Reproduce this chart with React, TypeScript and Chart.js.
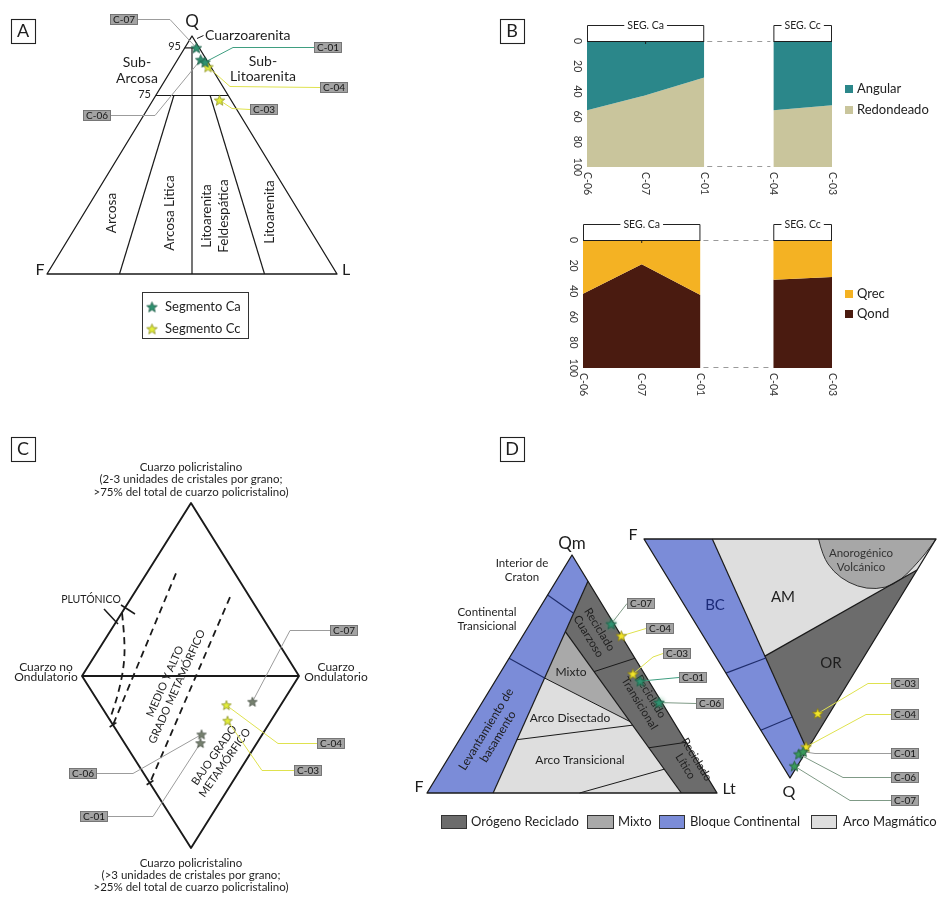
import React, { useEffect, useRef } from "react";
import { Chart, registerables } from "chart.js";

Chart.register(...registerables);

const FONT = 'Lato, "Open Sans", "DejaVu Sans", sans-serif';
const PAGE_W = 943;
const PAGE_H = 902;

/* ------------------------------ data ------------------------------ */
const SAMPLES = ["C-07", "C-06", "C-01", "C-04", "C-03"];
const SEGMENT = ["Ca", "Ca", "Ca", "Cc", "Cc"];
// QFL composition (%) : Q, F, L  (panel A and right triangle of D)
const QFL_Q = [95, 90, 89, 87, 73];
const QFL_F = [1, 2, 1, 1, 4];
const QFL_L = [4, 8, 10, 12, 23];
// QmFLt composition (%)
const QMFLT_QM = [71, 38, 47, 66, 50];
const QMFLT_F = [1, 1, 3, 0, 4];
const QMFLT_LT = [28, 61, 50, 34, 46];
// Basu diagram (%): non-undulatory, undulatory, polycrystalline (>3 units)
const BASU_NU = [14, 28, 26, 25, 20];
const BASU_U = [71, 38, 35, 58, 54];
const BASU_P = [15, 34, 39, 17, 26];

// Panel B
const B_CA = ["C-06", "C-07", "C-01"];
const B_CC = ["C-04", "C-03"];
const ANGULAR_CA = [55, 43, 29];
const ANGULAR_CC = [55, 51];
const QREC_CA = [42, 19, 43];
const QREC_CC = [31, 29];
const PCT_TICKS = [0, 20, 40, 60, 80, 100];

/* ----------------------------- layout ----------------------------- */
type Pt = [number, number];
const bary = (a: Pt, b: Pt, c: Pt, wa: number, wb: number, wc: number): Pt => {
  const s = wa + wb + wc;
  return [(a[0] * wa + b[0] * wb + c[0] * wc) / s, (a[1] * wa + b[1] * wb + c[1] * wc) / s];
};
const A_Q: Pt = [192, 36], A_F: Pt = [47, 274], A_L: Pt = [337, 274];
const C_TOP: Pt = [191, 503], C_LEFT: Pt = [82, 676], C_RIGHT: Pt = [299, 676], C_BOT: Pt = [191, 848];
const DL_QM: Pt = [572, 555], DL_F: Pt = [427, 793], DL_LT: Pt = [717, 793];
const DR_Q: Pt = [790, 778], DR_F: Pt = [644, 539], DR_L: Pt = [936, 539];
const LETTER_X_RIGHT = 500;

const ta = (q: number, f: number, l: number) => bary(A_Q, A_F, A_L, q, f, l);
const tl = (qm: number, f: number, lt: number) => bary(DL_QM, DL_F, DL_LT, qm, f, lt);
const tr = (q: number, f: number, l: number) => bary(DR_Q, DR_F, DR_L, q, f, l);
const dia = (h: number, v: number): Pt => [190.5 + h * 108.5, 676 - v * 172.5];

const POS: Record<string, (i: number) => Pt> = {
  A: (i) => bary(A_Q, A_F, A_L, QFL_Q[i], QFL_F[i], QFL_L[i]),
  C: (i) => bary(C_LEFT, C_RIGHT, C_BOT, BASU_NU[i], BASU_U[i], BASU_P[i]),
  DL: (i) => bary(DL_QM, DL_F, DL_LT, QMFLT_QM[i], QMFLT_F[i], QMFLT_LT[i]),
  DR: (i) => bary(DR_Q, DR_F, DR_L, QFL_Q[i], QFL_F[i], QFL_L[i]),
};

const BLUE = "#7b8cd8", DARK = "#6c6c6c", MIX = "#a9a9a9", LIGHT = "#dedede", LOBE = "#a7a7a7";
const NAVY = "#1f2d6b", INK = "#1a1a1a";
const GRAY_L = "#9c9c9c", YEL_L = "#dfe24e", GREEN_L = "#3f9e80", GG_L = "#7f9a86";

const TAG_W = 28, TAG_H = 11;
type Leader = { d: string; s: string; box: Pt; side: "l" | "r"; elbow?: Pt; color: string };
const LEADERS: Leader[] = [
  { d: "A", s: "C-07", box: [110, 14], side: "r", elbow: [170, 19.5], color: GRAY_L },
  { d: "A", s: "C-06", box: [83, 110], side: "r", elbow: [155, 115.5], color: GRAY_L },
  { d: "A", s: "C-01", box: [314, 42], side: "l", elbow: [233, 47.5], color: GREEN_L },
  { d: "A", s: "C-04", box: [320, 82], side: "l", elbow: [230, 86.5], color: YEL_L },
  { d: "A", s: "C-03", box: [250, 104], side: "l", elbow: [232, 108.5], color: YEL_L },
  { d: "C", s: "C-07", box: [330, 625], side: "l", elbow: [290, 630.5], color: GRAY_L },
  { d: "C", s: "C-06", box: [69, 768], side: "r", elbow: [133, 773.5], color: GRAY_L },
  { d: "C", s: "C-01", box: [80, 811], side: "r", elbow: [153, 816.5], color: GRAY_L },
  { d: "C", s: "C-04", box: [317, 738], side: "l", elbow: [278, 743.5], color: YEL_L },
  { d: "C", s: "C-03", box: [294, 765], side: "l", elbow: [262, 770.5], color: YEL_L },
  { d: "DL", s: "C-07", box: [627, 598], side: "l", color: GG_L },
  { d: "DL", s: "C-04", box: [646, 623], side: "l", color: YEL_L },
  { d: "DL", s: "C-03", box: [663, 648], side: "l", elbow: [653, 657], color: YEL_L },
  { d: "DL", s: "C-01", box: [679, 672], side: "l", color: GREEN_L },
  { d: "DL", s: "C-06", box: [696, 698], side: "l", color: GG_L },
  { d: "DR", s: "C-03", box: [891, 678], side: "l", elbow: [868, 683.5], color: YEL_L },
  { d: "DR", s: "C-04", box: [891, 709], side: "l", elbow: [866, 714.5], color: YEL_L },
  { d: "DR", s: "C-01", box: [891, 748], side: "l", elbow: [815, 753.5], color: GRAY_L },
  { d: "DR", s: "C-06", box: [891, 772], side: "l", elbow: [843, 777.5], color: GG_L },
  { d: "DR", s: "C-07", box: [891, 795], side: "l", elbow: [850, 800.5], color: GG_L },
];

/* ----------------------------- drawing ops ----------------------------- */
type Op =
  | { k: "line"; pts: Pt[]; color?: string; lw?: number; close?: boolean; fill?: string; dash?: number[]; smooth?: boolean }
  | { k: "text"; p: Pt; s: string[]; size: number; align?: CanvasTextAlign; rot?: number; color?: string; lh?: number }
  | { k: "rect"; p: Pt; w: number; h: number; fill?: string; color?: string; lw?: number }
  | { k: "tag"; p: Pt; s: string }
  | { k: "img"; p: Pt; img: HTMLCanvasElement };

const L = (pts: Pt[], o: any = {}): Op => ({ k: "line", pts, color: INK, lw: 1.2, ...o });
const T = (p: Pt, s: string | string[], size: number, o: any = {}): Op => ({ k: "text", p, s: Array.isArray(s) ? s : [s], size, ...o });
const R = (p: Pt, w: number, h: number, o: any = {}): Op => ({ k: "rect", p, w, h, color: "#222", lw: 1.1, ...o });

function tickAcross(e: Pt): Op {
  const n: Pt = [0.845, -0.535];
  return L([[e[0] - 4 * n[0], e[1] - 4 * n[1]], [e[0] + 4 * n[0], e[1] + 4 * n[1]]], { lw: 1.6 });
}

function buildBackground(): Op[] {
  const ops: Op[] = [];
  /* ---------- Panel A ---------- */
  ops.push(R([11, 19], 24, 24), T([23, 31.5], "A", 18));
  ops.push(L([A_Q, A_F, A_L], { close: true, lw: 1.3 }));
  ops.push(L([ta(95, 5, 0), ta(95, 0, 5)]));
  ops.push(L([ta(75, 25, 0), ta(75, 0, 25)]));
  ops.push(L([ta(75, 18.75, 6.25), ta(0, 75, 25)]));
  ops.push(L([ta(95, 2.5, 2.5), ta(0, 50, 50)]));
  ops.push(L([ta(75, 6.25, 18.75), ta(0, 25, 75)]));
  ops.push(L([[197, 38.5], [203.5, 35.5]], { lw: 1 }));
  ops.push(T([192, 22], "Q", 17), T([40, 270], "F", 16), T([346, 270], "L", 16));
  ops.push(T([181, 46], "95", 11, { align: "right" }), T([151, 94], "75", 11, { align: "right" }));
  ops.push(T([205, 35], "Cuarzoarenita", 14, { align: "left" }));
  ops.push(T([137, 70], ["Sub-", "Arcosa"], 14, { lh: 16 }));
  ops.push(T([263, 69], ["Sub-", "Litoarenita"], 14, { lh: 15 }));
  ops.push(T([112, 213], "Arcosa", 13.5, { rot: -90 }));
  ops.push(T([170, 213], "Arcosa Litica", 13.5, { rot: -90 }));
  ops.push(T([215.5, 216], ["Litoarenita", "Feldespática"], 13.5, { rot: -90, lh: 17 }));
  ops.push(T([270, 212], "Litoarenita", 13.5, { rot: -90 }));

  /* ---------- Panel C ---------- */
  ops.push(R([11, 437], 24, 24), T([23, 449.5], "C", 18));
  ops.push(T([191, 479.5], ["Cuarzo policristalino", "(2-3 unidades de cristales por grano;", ">75% del total de cuarzo policristalino)"], 11.5, { lh: 12.5 }));
  ops.push(T([191, 875], ["Cuarzo policristalino", "(>3 unidades de cristales por grano;", ">25% del total de cuarzo policristalino)"], 11.5, { lh: 12 }));
  ops.push(T([46, 672], ["Cuarzo no", "Ondulatorio"], 12, { lh: 10.5 }));
  ops.push(T([336, 672], ["Cuarzo", "Ondulatorio"], 12, { lh: 10.5 }));
  ops.push(L([C_TOP, C_RIGHT, C_BOT, C_LEFT], { close: true, lw: 1.9 }));
  ops.push(L([C_LEFT, C_RIGHT], { lw: 1.9 }));
  const dash = { lw: 1.8, dash: [7, 5] };
  ops.push(L([dia(-0.631, 0.364), dia(-0.604, 0.208), dia(-0.613, 0.052), dia(-0.668, -0.11), dia(-0.745, -0.255)], { ...dash, smooth: true }));
  const l2a = dia(-0.134, 0.595), l2b = dia(-0.714, -0.283);
  const l3a = dia(0.364, 0.457), l3b = dia(-0.373, -0.618);
  ops.push(L([l2a, l2b], dash), L([l3a, l3b], dash));
  ops.push(tickAcross(l2b), tickAcross(l3b));
  ops.push(L([[104, 609], [118, 624]], { lw: 1.5 }), L([[121, 605], [135, 614]], { lw: 1.5 }));
  ops.push(T([91, 600], "PLUTÓNICO", 10.5));
  ops.push(T([171, 684], ["MEDIO Y ALTO", "GRADO METAMÓRFICO"], 11, { rot: -66, lh: 13 }));
  ops.push(T([219.5, 759], ["BAJO GRADO", "METAMÓRFICO"], 11, { rot: -55, lh: 13 }));

  /* ---------- Panel D ---------- */
  ops.push(R([LETTER_X_RIGHT, 437], 24, 24), T([LETTER_X_RIGHT + 12, 449.5], "D", 18));
  // left triangle (Qm F Lt)
  const P1 = tl(0, 0.772, 0.228), P2 = tl(0.89, 0, 0.11), P3 = tl(0, 0.123, 0.877), P4 = tl(0.678, 0.184, 0.138);
  const M1 = tl(0.3, 0.15, 0.55), M2 = tl(0.483, 0.353, 0.164);
  ops.push(L([M2, M1, P3, P1], { close: true, fill: LIGHT, color: undefined }));
  ops.push(L([P4, M1, M2], { close: true, fill: MIX, color: undefined }));
  ops.push(L([P2, DL_LT, P3, P4], { close: true, fill: DARK, color: undefined }));
  ops.push(L([DL_QM, DL_F, P1, P2], { close: true, fill: BLUE, color: undefined }));
  ops.push(L([P2, P1]), L([P4, P3]), L([M2, M1], { lw: 1 }));
  ops.push(L([tl(0.224, 0.578, 0.198), tl(0.285, 0.149, 0.566)], { lw: 1 }));
  ops.push(L([tl(0, 0.474, 0.526), tl(0.1, 0.132, 0.768)], { lw: 1 }));
  ops.push(L([tl(0.51, 0.169, 0.321), tl(0.566, 0, 0.434)], { lw: 1 }));
  ops.push(L([tl(0.19, 0.14, 0.67), tl(0.213, 0, 0.787)], { lw: 1 }));
  ops.push(L([tl(0.832, 0.168, 0), tl(0.755, 0.117, 0.128)], { color: NAVY, lw: 1.2 }));
  ops.push(L([tl(0.566, 0.434, 0), M2], { color: NAVY, lw: 1.2 }));
  ops.push(L([DL_QM, DL_F, DL_LT], { close: true, lw: 1.3 }));
  ops.push(T([572, 544], "Qm", 17), T([419, 787], "F", 16), T([729, 789], "Lt", 16));
  ops.push(T([522, 570], ["Interior de", "Craton"], 11.5, { lh: 14 }));
  ops.push(T([487, 619], ["Continental", "Transicional"], 11.5, { lh: 14 }));
  ops.push(T([492, 733], ["Levantamiento de", "basamento"], 12, { rot: -58.6, lh: 14 }));
  ops.push(T([594, 633], ["Reciclado", "Cuarzoso"], 11.5, { rot: 58.6, lh: 13 }));
  ops.push(T([571, 672], "Mixto", 12));
  ops.push(T([645, 700], ["Reciclado", "Transicional"], 11.5, { rot: 58.6, lh: 13 }));
  ops.push(T([570, 718], "Arco Disectado", 12));
  ops.push(T([580, 760], "Arco Transicional", 12));
  ops.push(T([691, 763], ["Reciclado", "Lítico"], 11.5, { rot: 58.6, lh: 13 }));
  // right triangle (Q F L)
  const B1 = tr(0, 0.766, 0.234), B2 = tr(0.883, 0, 0.117), J = tr(0.49, 0.341, 0.169), K = tr(0.13, 0, 0.87);
  ops.push(L([DR_F, DR_L, DR_Q], { close: true, fill: LIGHT, color: undefined }));
  ops.push(L([DR_F, B1, B2, DR_Q], { close: true, fill: BLUE, color: undefined }));
  ops.push(L([J, K, B2], { close: true, fill: DARK, color: undefined }));
  const LOBE_QL: Pt[] = [[0, 0.598], [0.071, 0.576], [0.138, 0.58], [0.184, 0.609], [0.209, 0.658], [0.205, 0.725], [0.172, 0.793], [0.121, 0.86], [0.059, 0.936], [0, 1]];
  ops.push(L(LOBE_QL.map(([q, l]) => tr(q, 1 - q - l, l)), { fill: LOBE, color: "#333", lw: 1, smooth: true }));
  ops.push(L([B1, B2]), L([J, K]));
  ops.push(L([tr(0.561, 0.439, 0), tr(0.498, 0.334, 0.168)], { color: NAVY, lw: 1.2 }));
  ops.push(L([tr(0.8, 0.2, 0), tr(0.745, 0.12, 0.135)], { color: NAVY, lw: 1.2 }));
  ops.push(L([DR_F, DR_L, DR_Q], { close: true, lw: 1.3 }));
  ops.push(T([633, 535], "F", 16), T([789, 792], "Q", 16));
  ops.push(T([715, 605], "BC", 15, { color: "#1b2a78" }), T([783, 597], "AM", 15), T([831, 663], "OR", 15));
  ops.push(T([861, 560], ["Anorogénico", "Volcánico"], 11.5, { lh: 14, color: "#333" }));
  // legend D
  ops.push(R([441, 815], 25, 13, { fill: DARK, color: "#333", lw: 1 }), T([471, 821.5], "Orógeno Reciclado", 13, { align: "left" }));
  ops.push(R([587, 815], 26, 13, { fill: MIX, color: "#333", lw: 1 }), T([618, 821.5], "Mixto", 13, { align: "left" }));
  ops.push(R([659, 815], 25, 13, { fill: BLUE, color: "#333", lw: 1 }), T([690, 821.5], "Bloque Continental", 13, { align: "left" }));
  ops.push(R([811, 815], 25, 13, { fill: LIGHT, color: "#333", lw: 1 }), T([843, 821.5], "Arco Magmático", 13, { align: "left" }));
  return ops;
}

function drawOps(chart: any, ops: Op[]) {
  const ctx: CanvasRenderingContext2D = chart.ctx;
  const sx = chart.scales.x, sy = chart.scales.y;
  const P = (p: Pt): Pt => [sx.getPixelForValue(p[0]), sy.getPixelForValue(p[1])];
  for (const op of ops) {
    ctx.save();
    if (op.k === "line") {
      const pts = op.pts.map(P);
      ctx.beginPath();
      ctx.moveTo(pts[0][0], pts[0][1]);
      if (op.smooth && pts.length > 2) {
        for (let i = 1; i < pts.length - 1; i++) {
          const mx = (pts[i][0] + pts[i + 1][0]) / 2, my = (pts[i][1] + pts[i + 1][1]) / 2;
          ctx.quadraticCurveTo(pts[i][0], pts[i][1], mx, my);
        }
        ctx.lineTo(pts[pts.length - 1][0], pts[pts.length - 1][1]);
      } else {
        for (let i = 1; i < pts.length; i++) ctx.lineTo(pts[i][0], pts[i][1]);
      }
      if (op.close) ctx.closePath();
      if (op.fill) { ctx.fillStyle = op.fill; ctx.fill(); }
      if (op.color) {
        ctx.strokeStyle = op.color; ctx.lineWidth = op.lw ?? 1; ctx.setLineDash(op.dash ?? []);
        ctx.lineJoin = "round"; ctx.stroke();
      }
    } else if (op.k === "text") {
      const p = P(op.p);
      ctx.font = `${op.size}px ${FONT}`;
      ctx.fillStyle = op.color ?? "#1e1e1e";
      ctx.textAlign = op.align ?? "center";
      ctx.textBaseline = "middle";
      ctx.translate(p[0], p[1]);
      if (op.rot) ctx.rotate((op.rot * Math.PI) / 180);
      const lh = op.lh ?? op.size * 1.2;
      op.s.forEach((s, i) => ctx.fillText(s, 0, (i - (op.s.length - 1) / 2) * lh));
    } else if (op.k === "rect") {
      const a = P(op.p), b = P([op.p[0] + op.w, op.p[1] + op.h]);
      if (op.fill) { ctx.fillStyle = op.fill; ctx.fillRect(a[0], a[1], b[0] - a[0], b[1] - a[1]); }
      if (op.color) { ctx.strokeStyle = op.color; ctx.lineWidth = op.lw ?? 1; ctx.strokeRect(a[0] + 0.5, a[1] + 0.5, b[0] - a[0], b[1] - a[1]); }
    } else if (op.k === "tag") {
      const a = P(op.p), b = P([op.p[0] + TAG_W, op.p[1] + TAG_H]);
      ctx.fillStyle = "#a3a3a3"; ctx.fillRect(a[0], a[1], b[0] - a[0], b[1] - a[1]);
      ctx.strokeStyle = "#6b6b6b"; ctx.lineWidth = 0.8; ctx.strokeRect(a[0] + 0.5, a[1] + 0.5, b[0] - a[0] - 1, b[1] - a[1] - 1);
      ctx.font = `10px ${FONT}`; ctx.fillStyle = "#161616"; ctx.textAlign = "center"; ctx.textBaseline = "middle";
      ctx.fillText(op.s, (a[0] + b[0]) / 2, (a[1] + b[1]) / 2 + 0.5);
    } else if (op.k === "img") {
      const p = P(op.p);
      ctx.drawImage(op.img, p[0] - op.img.width / 2, p[1] - op.img.height / 2);
    }
    ctx.restore();
  }
}

function makeStar(fill: string, stroke: string, r: number, glow?: string): HTMLCanvasElement {
  const pad = glow ? 5 : 2;
  const s = Math.ceil(2 * r + 2 * pad);
  const c = document.createElement("canvas");
  c.width = s; c.height = s;
  const g = c.getContext("2d")!;
  g.translate(s / 2, s / 2 + r * 0.08);
  g.beginPath();
  for (let i = 0; i < 10; i++) {
    const a = -Math.PI / 2 + (i * Math.PI) / 5;
    const rr = i % 2 === 0 ? r : r * 0.43;
    g.lineTo(rr * Math.cos(a), rr * Math.sin(a));
  }
  g.closePath();
  if (glow) { g.shadowColor = glow; g.shadowBlur = 5; }
  g.fillStyle = fill; g.fill();
  g.shadowBlur = 0; g.shadowColor = "transparent";
  g.lineWidth = 0.8; g.strokeStyle = stroke; g.stroke();
  return c;
}

function Diagrams() {
  const ref = useRef<HTMLCanvasElement>(null);
  useEffect(() => {
    const canvas = ref.current!;
    const stars: Record<string, Record<string, HTMLCanvasElement>> = {
      A: { Ca: makeStar("#2f9270", "#1c5a45", 5.5), Cc: makeStar("#e3ee3a", "#8a8f1e", 5.5) },
      C: { Ca: makeStar("#76816f", "#4a5348", 5), Cc: makeStar("#e3ee3a", "#8a8f1e", 5) },
      DL: { Ca: makeStar("#2f9270", "#1c5a45", 5.5, "#3f9e6f"), Cc: makeStar("#f2e52a", "#8a7f10", 5.5) },
      DR: { Ca: makeStar("#3a9a5c", "#1f5a35", 5.5), Cc: makeStar("#f2e52a", "#8a7f10", 5.5) },
    };
    const datasets: any[] = [];
    for (const d of ["A", "C", "DL", "DR"]) {
      for (const seg of ["Ca", "Cc"]) {
        const idx = SAMPLES.map((_, i) => i).filter((i) => SEGMENT[i] === seg);
        datasets.push({
          label: `${d}-${seg}`,
          data: idx.map((i) => { const p = POS[d](i); return { x: p[0], y: p[1] }; }),
          pointStyle: stars[d][seg], pointRadius: 5, showLine: false, order: 0,
        });
      }
    }
    const fg: Op[] = [];
    for (const ld of LEADERS) {
      const i = SAMPLES.indexOf(ld.s);
      const star = POS[ld.d](i);
      const anchor: Pt = ld.side === "l" ? [ld.box[0], ld.box[1] + TAG_H / 2] : [ld.box[0] + TAG_W, ld.box[1] + TAG_H / 2];
      const pts: Pt[] = ld.elbow ? [anchor, ld.elbow, star] : [anchor, star];
      datasets.push({
        label: `lead-${ld.d}-${ld.s}`,
        data: pts.map((p) => ({ x: p[0], y: p[1] })),
        showLine: true, borderColor: ld.color, borderWidth: 1, pointRadius: 0, order: 1, fill: false, tension: 0,
      });
      fg.push({ k: "tag", p: ld.box, s: ld.s });
    }
    // legend of panel A
    fg.push(R([142, 292], 106, 46, { color: "#333", lw: 1 }));
    fg.push({ k: "img", p: [152, 307], img: stars.A.Ca }, { k: "img", p: [152, 329], img: stars.A.Cc });
    fg.push(T([165, 307], "Segmento Ca", 13, { align: "left" }), T([165, 329], "Segmento Cc", 13, { align: "left" }));

    const bg = buildBackground();
    const scene = {
      id: "scene",
      beforeDatasetsDraw(chart: any) { drawOps(chart, bg); },
      afterDatasetsDraw(chart: any) { drawOps(chart, fg); },
    };
    const chart = new Chart(canvas, {
      type: "scatter",
      data: { datasets },
      options: {
        responsive: false, animation: false, events: [],
        layout: { padding: 0, autoPadding: false },
        scales: {
          x: { type: "linear", min: 0, max: PAGE_W, display: false },
          y: { type: "linear", min: 0, max: PAGE_H, reverse: true, display: false },
        },
        plugins: { legend: { display: false }, tooltip: { enabled: false } },
      },
      plugins: [scene],
    } as any);
    return () => chart.destroy();
  }, []);
  return <canvas ref={ref} width={PAGE_W} height={PAGE_H} style={{ position: "absolute", left: 0, top: 0, width: PAGE_W, height: PAGE_H }} />;
}

/* ----------------------------- panel B ----------------------------- */
const B_LEFT = 490, B_W = 453;
type BRow = {
  top: number; height: number; plot: { l: number; r: number; t: number; b: number };
  gap: number; upper: number[][]; colors: string[]; names: string[]; legendY: number[]; letter?: string;
};
const ROW_TOP: BRow = {
  top: 0, height: 205, plot: { l: 587, r: 832, t: 41, b: 167 }, gap: 3.18,
  upper: [ANGULAR_CA, ANGULAR_CC], colors: ["#2b878a", "#c9c59c"], names: ["Angular", "Redondeado"], legendY: [89, 110], letter: "B",
};
const ROW_BOTTOM: BRow = {
  top: 205, height: 200, plot: { l: 583, r: 832, t: 240, b: 368 }, gap: 3.24,
  upper: [QREC_CA, QREC_CC], colors: ["#f4b223", "#4a1b10"], names: ["Qrec", "Qond"], legendY: [294, 314],
};

function BChart({ row }: { row: BRow }) {
  const ref = useRef<HTMLCanvasElement>(null);
  useEffect(() => {
    const xCa = B_CA.map((_, i) => i);
    const xCc = B_CC.map((_, i) => row.gap + i);
    const groups = [
      { cats: B_CA, xs: xCa, vals: row.upper[0], name: "SEG. Ca" },
      { cats: B_CC, xs: xCc, vals: row.upper[1], name: "SEG. Cc" },
    ];
    const datasets: any[] = [];
    for (const g of groups) {
      const data = g.xs.map((x, i) => ({ x, y: g.vals[i] }));
      datasets.push({ label: row.names[0], data, fill: { value: 0 }, backgroundColor: row.colors[0], borderColor: "transparent", borderWidth: 0, pointRadius: 0, tension: 0 });
      datasets.push({ label: row.names[1], data, fill: { value: 100 }, backgroundColor: row.colors[1], borderColor: "transparent", borderWidth: 0, pointRadius: 0, tension: 0 });
    }
    const ox = B_LEFT, oy = row.top;
    const deco = {
      id: "bdeco",
      afterDraw(chart: any) {
        const ctx: CanvasRenderingContext2D = chart.ctx;
        const { top, bottom, left } = chart.chartArea;
        const xs = chart.scales.x, ys = chart.scales.y;
        ctx.save();
        ctx.fillStyle = "#333"; ctx.font = `10.5px ${FONT}`; ctx.textBaseline = "middle";
        for (const v of PCT_TICKS) {
          const y = ys.getPixelForValue(v);
          ctx.save(); ctx.translate(left - 10, y); ctx.rotate(Math.PI / 2); ctx.textAlign = "center"; ctx.fillText(String(v), 0, 0); ctx.restore();
        }
        for (const g of groups) {
          const x0 = xs.getPixelForValue(g.xs[0]), x1 = xs.getPixelForValue(g.xs[g.xs.length - 1]);
          g.cats.forEach((c, i) => {
            const x = xs.getPixelForValue(g.xs[i]);
            ctx.save(); ctx.translate(x, bottom + 5); ctx.rotate(Math.PI / 2); ctx.textAlign = "left"; ctx.fillStyle = "#333"; ctx.font = `10.5px ${FONT}`; ctx.fillText(c, 0, 0); ctx.restore();
          });
          ctx.strokeStyle = "#1d1d1d"; ctx.lineWidth = 1; ctx.setLineDash([]);
          ctx.beginPath(); ctx.moveTo(x0, top + 0.5); ctx.lineTo(x1, top + 0.5); ctx.stroke();
          if (g.xs.length > 2) {
            const xm = xs.getPixelForValue(g.xs[1]);
            ctx.beginPath(); ctx.moveTo(xm, top); ctx.lineTo(xm, top + 3); ctx.stroke();
          }
          const yb = top - 15.5;
          ctx.font = `10.5px ${FONT}`;
          const tw = ctx.measureText(g.name).width;
          const xmid = (x0 + x1) / 2;
          ctx.strokeStyle = "#222"; ctx.lineWidth = 1;
          ctx.beginPath();
          ctx.moveTo(x0 + 0.5, top); ctx.lineTo(x0 + 0.5, yb); ctx.lineTo(xmid - tw / 2 - 3, yb);
          ctx.moveTo(xmid + tw / 2 + 3, yb); ctx.lineTo(x1 - 0.5, yb); ctx.lineTo(x1 - 0.5, top);
          ctx.stroke();
          ctx.fillStyle = "#222"; ctx.textAlign = "center"; ctx.fillText(g.name, xmid, yb + 0.5);
        }
        const xa = xs.getPixelForValue(xCa[xCa.length - 1]), xb = xs.getPixelForValue(xCc[0]);
        ctx.strokeStyle = "#9a9a9a"; ctx.lineWidth = 1; ctx.setLineDash([5, 5]);
        for (const y of [top + 0.5, bottom - 0.5]) { ctx.beginPath(); ctx.moveTo(xa + 3, y); ctx.lineTo(xb - 3, y); ctx.stroke(); }
        ctx.setLineDash([]);
        ctx.font = `13px ${FONT}`; ctx.textAlign = "left";
        row.names.forEach((n, i) => {
          const y = row.legendY[i] - oy;
          ctx.fillStyle = row.colors[i]; ctx.fillRect(845 - ox, y - 4, 8, 8);
          ctx.fillStyle = "#222"; ctx.fillText(n, 857 - ox, y);
        });
        if (row.letter) {
          ctx.strokeStyle = "#222"; ctx.lineWidth = 1.1;
          ctx.strokeRect(LETTER_X_RIGHT - ox + 0.5, 19 - oy + 0.5, 24, 24);
          ctx.font = `18px ${FONT}`; ctx.textAlign = "center"; ctx.fillStyle = "#1e1e1e";
          ctx.fillText(row.letter, LETTER_X_RIGHT + 12 - ox, 31.5 - oy);
        }
        ctx.restore();
      },
    };
    const chart = new Chart(ref.current!, {
      type: "line",
      data: { datasets },
      options: {
        responsive: false, animation: false, events: [],
        layout: {
          padding: { left: row.plot.l - B_LEFT, right: B_LEFT + B_W - row.plot.r, top: row.plot.t - row.top, bottom: row.top + row.height - row.plot.b },
          autoPadding: false,
        },
        scales: {
          x: { type: "linear", min: 0, max: row.gap + B_CC.length - 1, display: false },
          y: { type: "linear", min: 0, max: 100, reverse: true, display: false },
        },
        plugins: { legend: { display: false }, tooltip: { enabled: false } },
      },
      plugins: [deco],
    } as any);
    return () => chart.destroy();
  }, [row]);
  return <canvas ref={ref} width={B_W} height={row.height} style={{ position: "absolute", left: B_LEFT, top: row.top, width: B_W, height: row.height }} />;
}

export default function App() {
  return (
    <div style={{ position: "absolute", left: 0, top: 0, width: PAGE_W, height: PAGE_H, background: "#ffffff", overflow: "hidden" }}>
      <Diagrams />
      <BChart row={ROW_TOP} />
      <BChart row={ROW_BOTTOM} />
    </div>
  );
}
